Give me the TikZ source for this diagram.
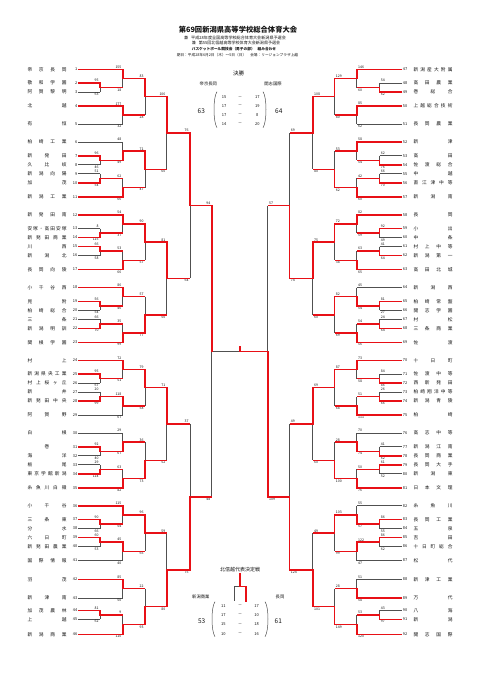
\documentclass[tikz,border=0pt]{standalone}
\usepackage{fontspec}
\setmainfont{Noto Sans CJK JP}
\definecolor{rd}{RGB}{232,16,22}
\definecolor{gy}{RGB}{80,80,80}
\definecolor{tx}{RGB}{20,20,20}
\pgfdeclarelayer{fg}
\pgfsetlayers{main,fg}
\newcounter{scn}
\def\SPa#1{#1\SPb}
\def\SPb#1{\ifx#1\relax\else\hfill#1\expandafter\SPb\fi}
\newcommand\spr[1]{\hbox to 39pt{\SPa#1\relax}}
\tikzset{
 rl/.style={draw=rd, line width=1.5pt},
 gl/.style={draw=gy, line width=0.7pt},
 nm/.style={font=\fontsize{4.7}{5}\selectfont, text=tx, inner sep=0pt},
 num/.style={font=\fontsize{3.9}{4.5}\selectfont, text=tx, inner sep=0.4pt},
 sc/.style={font=\fontsize{3.5}{4}\selectfont, text=tx, inner sep=0.2pt},
 qs/.style={font=\fontsize{4}{4.5}\selectfont, text=tx, inner sep=0pt},
 big/.style={font=\fontsize{6.5}{7}\selectfont, text=tx, inner sep=0pt},
 fn/.style={font=\fontsize{4.3}{5}\selectfont, text=tx, inner sep=0pt},
 pr/.style={draw=gy, line width=0.5pt},
}
\newcommand\scl[4]{\stepcounter{scn}\node[sc,anchor=#3] (s\arabic{scn}) at ({#1},{#2}) {#4};}
% #1 xj #2 xnext #3 yt #4 yb #5 winner t/b #6 top score #7 bottom score #8 side L/R
\newcommand\mtch[8]{%
 \pgfmathsetmacro\ymid{(#3+#4)/2}%
 \if#5t
   \draw[gl] (#1,\ymid) -- (#1,#4);
   \begin{pgfonlayer}{fg}\draw[rl,line cap=rect] (#1,#3) -- (#1,\ymid);\draw[rl] (#1,\ymid) -- (#2,\ymid);\end{pgfonlayer}
 \else
   \draw[gl] (#1,#3) -- (#1,\ymid);
   \begin{pgfonlayer}{fg}\draw[rl,line cap=rect] (#1,#4) -- (#1,\ymid);\draw[rl] (#1,\ymid) -- (#2,\ymid);\end{pgfonlayer}
 \fi
 \if#8L
   \scl{#1-1}{#3-0.6}{south east}{#6}\scl{#1-1}{#4+0.6}{north east}{#7}
 \else
   \scl{#1+1}{#3-0.6}{south west}{#6}\scl{#1+1}{#4+0.6}{north west}{#7}
 \fi}
\newcommand\tL[5]{%
 \node[nm,anchor=west] (n#1) at (27.3,#2) {\spr{#3}};
 \node[num,anchor=east] (t#1) at (77.8,#2) {#1};
 \if#4r\begin{pgfonlayer}{fg}\draw[rl] (t#1.east) -- (#5,#2);\end{pgfonlayer}\else\draw[gl] (t#1.east) -- (#5,#2);\fi}
\newcommand\tR[5]{%
 \node[nm,anchor=west] (n#1) at (413.3,#2) {\spr{#3}};
 \node[num,anchor=west] (t#1) at (402.3,#2) {#1};
 \if#4r\begin{pgfonlayer}{fg}\draw[rl] (#5,#2) -- (t#1.west);\end{pgfonlayer}\else\draw[gl] (#5,#2) -- (t#1.west);\fi}
\begin{document}
\begin{tikzpicture}[x=1pt,y=-1pt]
\fill[white] (0,0) rectangle (481,680);
\useasboundingbox (0,0) rectangle (481,680);
% header
\node[font=\fontsize{7.3}{8}\selectfont\bfseries,text=tx,inner sep=0pt] (h1) at (238,29.5) {第69回新潟県高等学校総合体育大会};
\node[font=\fontsize{4.1}{5}\selectfont,text=tx,inner sep=0pt] (h2) at (235,37.7) {兼\hspace{3pt}平成28年度全国高等学校総合体育大会新潟県予選会};
\node[font=\fontsize{4.05}{5}\selectfont,text=tx,inner sep=0pt] (h3) at (236,43.3) {兼\hspace{3pt}第55回北信越高等学校体育大会新潟県予選会};
\node[font=\fontsize{3.7}{4.5}\selectfont\bfseries,text=tx,inner sep=0pt] (h4) at (234,49.3) {バスケットボール競技会（男子の部）\hspace{3pt}組み合わせ};
\node[font=\fontsize{3.7}{4.5}\selectfont,text=tx,inner sep=0pt] (h5) at (237.5,55) {期日：平成28年6月2日（木）～5日（日）\hspace{4pt}会場：リージョンプラザ上越};
% left teams
\tL{1}{69.25}{帝京長岡}{r}{122.75}
\tL{2}{83}{敬和学園}{r}{100}
\tL{3}{92}{阿賀黎明}{g}{100}
\tL{4}{106}{北越}{r}{122.75}
\tL{5}{124}{有恒}{g}{122.75}
\tL{6}{142}{柏崎工業}{g}{122.75}
\tL{7}{155.75}{新発田}{r}{100}
\tL{8}{164.75}{久比岐}{g}{100}
\tL{9}{173.75}{新潟向陽}{g}{100}
\tL{10}{182.75}{加茂}{r}{100}
\tL{11}{196.75}{新潟工業}{r}{122.75}
\tL{12}{214.75}{新発田南}{r}{122.75}
\tL{13}{228.5}{安塚・高田安塚}{g}{100}
\tL{14}{237.5}{新発田商業}{r}{100}
\tL{15}{246.5}{川西}{r}{100}
\tL{16}{255.5}{新潟北}{g}{100}
\tL{17}{269.5}{長岡向陵}{r}{122.75}
\tL{18}{287.5}{小千谷西}{r}{122.75}
\tL{19}{301.25}{見附}{r}{100}
\tL{20}{310.25}{柏崎総合}{g}{100}
\tL{21}{319.25}{三条}{g}{100}
\tL{22}{328.25}{新潟明訓}{r}{100}
\tL{23}{342.25}{関根学園}{r}{122.75}
\tL{24}{360.25}{村上}{r}{122.75}
\tL{25}{374}{新潟県央工業}{r}{100}
\tL{26}{383}{村上桜ヶ丘}{g}{100}
\tL{27}{392}{新井}{g}{100}
\tL{28}{401}{新発田中央}{r}{100}
\tL{29}{415}{阿賀野}{g}{122.75}
\tL{30}{433}{白根}{g}{122.75}
\tL{31}{446.75}{{\hfil 巻\hfil}}{r}{100}
\tL{32}{455.75}{海洋}{g}{100}
\tL{33}{464.75}{栃尾}{g}{100}
\tL{34}{473.75}{東京学館新潟}{r}{100}
\tL{35}{487.75}{糸魚川白嶺}{r}{122.75}
\tL{36}{505.75}{小千谷}{r}{122.75}
\tL{37}{519.5}{三条東}{r}{100}
\tL{38}{528.5}{分水}{g}{100}
\tL{39}{537.5}{六日町}{r}{100}
\tL{40}{546.5}{新発田農業}{g}{100}
\tL{41}{560.5}{国際情報}{g}{122.75}
\tL{42}{579.25}{羽茂}{r}{122.75}
\tL{43}{598}{新津南}{g}{122.75}
\tL{44}{610.25}{加茂農林}{r}{100}
\tL{45}{619.25}{上越}{g}{100}
\tL{46}{634.25}{新潟商業}{r}{122.75}
% right teams
\tR{47}{69.25}{新潟産大附属}{r}{356.75}
\tR{48}{83}{高田農業}{g}{379.5}
\tR{49}{92}{巻総合}{r}{379.5}
\tR{50}{106}{上越総合技術}{r}{356.75}
\tR{51}{124}{長岡農業}{g}{356.75}
\tR{52}{142}{新津}{r}{356.75}
\tR{53}{155.75}{高田}{g}{379.5}
\tR{54}{164.75}{佐渡総合}{r}{379.5}
\tR{55}{173.75}{中越}{g}{379.5}
\tR{56}{182.75}{直江津中等}{r}{379.5}
\tR{57}{196.75}{新潟南}{r}{356.75}
\tR{58}{214.75}{長岡}{r}{356.75}
\tR{59}{228.5}{小出}{r}{379.5}
\tR{60}{237.5}{中条}{g}{379.5}
\tR{61}{246.5}{村上中等}{g}{379.5}
\tR{62}{255.5}{新潟第一}{r}{379.5}
\tR{63}{269.5}{高田北城}{r}{356.75}
\tR{64}{287.5}{新潟西}{g}{356.75}
\tR{65}{301.25}{柏崎常盤}{r}{379.5}
\tR{66}{310.25}{開志学園}{g}{379.5}
\tR{67}{319.25}{村松}{g}{379.5}
\tR{68}{328.25}{三条商業}{r}{379.5}
\tR{69}{342.25}{佐渡}{r}{356.75}
\tR{70}{360.25}{十日町}{r}{356.75}
\tR{71}{374}{佐渡中等}{g}{379.5}
\tR{72}{383}{西新発田}{r}{379.5}
\tR{73}{392}{柏崎翔洋中等}{g}{379.5}
\tR{74}{401}{新潟青陵}{r}{379.5}
\tR{75}{415}{柏崎}{r}{356.75}
\tR{76}{433}{高志中等}{g}{356.75}
\tR{77}{446.75}{新潟江南}{g}{379.5}
\tR{78}{455.75}{長岡商業}{r}{379.5}
\tR{79}{464.75}{長岡大手}{r}{379.5}
\tR{80}{473.75}{新潟東}{g}{379.5}
\tR{81}{487.75}{日本文理}{r}{356.75}
\tR{82}{505.75}{糸魚川}{g}{356.75}
\tR{83}{519.5}{長岡工業}{r}{379.5}
\tR{84}{528.5}{五泉}{g}{379.5}
\tR{85}{537.5}{吉田}{r}{379.5}
\tR{86}{546.5}{十日町総合}{g}{379.5}
\tR{87}{560.5}{松代}{g}{356.75}
\tR{88}{579.25}{新津工業}{g}{356.75}
\tR{89}{598}{万代}{r}{356.75}
\tR{90}{610.25}{八海}{g}{379.5}
\tR{91}{619.25}{新潟}{r}{379.5}
\tR{92}{634.25}{開志国際}{r}{356.75}
% left level 1
\mtch{100}{122.75}{83}{92}{t}{95}{63}{L}
\mtch{100}{122.75}{155.75}{164.75}{t}{96}{46}{L}
\mtch{100}{122.75}{173.75}{182.75}{b}{51}{54}{L}
\mtch{100}{122.75}{228.5}{237.5}{b}{8}{115}{L}
\mtch{100}{122.75}{246.5}{255.5}{t}{66}{58}{L}
\mtch{100}{122.75}{301.25}{310.25}{t}{56}{54}{L}
\mtch{100}{122.75}{319.25}{328.25}{b}{66}{70}{L}
\mtch{100}{122.75}{374}{383}{t}{95}{67}{L}
\mtch{100}{122.75}{392}{401}{b}{20}{99}{L}
\mtch{100}{122.75}{446.75}{455.75}{t}{92}{40}{L}
\mtch{100}{122.75}{464.75}{473.75}{b}{29}{114}{L}
\mtch{100}{122.75}{519.5}{528.5}{t}{90}{66}{L}
\mtch{100}{122.75}{537.5}{546.5}{t}{60}{53}{L}
\mtch{100}{122.75}{610.25}{619.25}{t}{81}{62}{L}
% left level 2
\mtch{122.75}{145}{69.25}{87.5}{t}{155}{18}{L}
\mtch{122.75}{145}{106}{124}{t}{177}{32}{L}
\mtch{122.75}{145}{142}{160.25}{b}{48}{49}{L}
\mtch{122.75}{145}{178.25}{196.75}{b}{62}{66}{L}
\mtch{122.75}{145}{214.75}{233}{t}{54}{37}{L}
\mtch{122.75}{145}{251}{269.5}{b}{53}{66}{L}
\mtch{122.75}{145}{287.5}{305.75}{t}{86}{46}{L}
\mtch{122.75}{145}{323.75}{342.25}{b}{35}{99}{L}
\mtch{122.75}{145}{360.25}{378.5}{t}{72}{51}{L}
\mtch{122.75}{145}{396.5}{415}{t}{118}{67}{L}
\mtch{122.75}{145}{433}{451.25}{b}{29}{67}{L}
\mtch{122.75}{145}{469.25}{487.75}{b}{63}{82}{L}
\mtch{122.75}{145}{505.75}{524}{t}{115}{54}{L}
\mtch{122.75}{145}{542}{560.5}{t}{45}{40}{L}
\mtch{122.75}{145}{579.25}{598}{t}{85}{50}{L}
\mtch{122.75}{145}{614.75}{634.25}{b}{9}{110}{L}
% left level 3
\mtch{145}{166.75}{78.375}{115}{t}{83}{28}{L}
\mtch{145}{166.75}{151.125}{187.5}{t}{71}{47}{L}
\mtch{145}{166.75}{223.875}{260.25}{t}{90}{57}{L}
\mtch{145}{166.75}{296.625}{333}{b}{57}{77}{L}
\mtch{145}{166.75}{369.375}{405.75}{t}{79}{58}{L}
\mtch{145}{166.75}{442.125}{478.5}{b}{36}{73}{L}
\mtch{145}{166.75}{514.875}{551.25}{t}{96}{65}{L}
\mtch{145}{166.75}{588.625}{624.5}{b}{22}{93}{L}
% left level 4
\mtch{166.75}{190}{96.6875}{169.3125}{t}{106}{60}{L}
\mtch{166.75}{190}{242.0625}{314.8125}{t}{81}{50}{L}
\mtch{166.75}{190}{387.5625}{460.3125}{t}{71}{52}{L}
\mtch{166.75}{190}{533.0625}{606.5625}{b}{59}{80}{L}
% left level 5
\mtch{190}{211.75}{133}{278.4375}{t}{76}{64}{L}
\mtch{190}{211.75}{423.9375}{569.8125}{b}{37}{75}{L}
% left semi
\mtch{211.75}{211.75}{205.71875}{496.875}{t}{94}{48}{L}
% right level 1
\mtch{379.5}{356.75}{83}{92}{b}{54}{62}{R}
\mtch{379.5}{356.75}{155.75}{164.75}{b}{62}{76}{R}
\mtch{379.5}{356.75}{173.75}{182.75}{b}{66}{70}{R}
\mtch{379.5}{356.75}{228.5}{237.5}{t}{92}{49}{R}
\mtch{379.5}{356.75}{246.5}{255.5}{b}{41}{64}{R}
\mtch{379.5}{356.75}{301.25}{310.25}{t}{81}{27}{R}
\mtch{379.5}{356.75}{319.25}{328.25}{b}{24}{64}{R}
\mtch{379.5}{356.75}{374}{383}{b}{84}{86}{R}
\mtch{379.5}{356.75}{392}{401}{b}{26}{66}{R}
\mtch{379.5}{356.75}{446.75}{455.75}{b}{41}{62}{R}
\mtch{379.5}{356.75}{464.75}{473.75}{t}{61}{52}{R}
\mtch{379.5}{356.75}{519.5}{528.5}{t}{86}{55}{R}
\mtch{379.5}{356.75}{537.5}{546.5}{t}{86}{62}{R}
\mtch{379.5}{356.75}{610.25}{619.25}{b}{43}{97}{R}
% right level 2
\mtch{356.75}{334.5}{69.25}{87.5}{t}{146}{60}{R}
\mtch{356.75}{334.5}{106}{124}{t}{85}{62}{R}
\mtch{356.75}{334.5}{142}{160.25}{t}{58}{54}{R}
\mtch{356.75}{334.5}{178.25}{196.75}{b}{42}{60}{R}
\mtch{356.75}{334.5}{214.75}{233}{t}{82}{59}{R}
\mtch{356.75}{334.5}{251}{269.5}{b}{63}{65}{R}
\mtch{356.75}{334.5}{287.5}{305.75}{b}{45}{54}{R}
\mtch{356.75}{334.5}{323.75}{342.25}{b}{54}{56}{R}
\mtch{356.75}{334.5}{360.25}{378.5}{t}{73}{58}{R}
\mtch{356.75}{334.5}{396.5}{415}{b}{51}{111}{R}
\mtch{356.75}{334.5}{433}{451.25}{b}{70}{74}{R}
\mtch{356.75}{334.5}{469.25}{487.75}{b}{50}{76}{R}
\mtch{356.75}{334.5}{505.75}{524}{b}{55}{57}{R}
\mtch{356.75}{334.5}{542}{560.5}{t}{122}{47}{R}
\mtch{356.75}{334.5}{579.25}{598}{b}{51}{58}{R}
\mtch{356.75}{334.5}{614.75}{634.25}{b}{53}{120}{R}
% right level 3
\mtch{334.5}{312.75}{78.375}{115}{t}{129}{80}{R}
\mtch{334.5}{312.75}{151.125}{187.5}{b}{53}{62}{R}
\mtch{334.5}{312.75}{223.875}{260.25}{t}{72}{38}{R}
\mtch{334.5}{312.75}{296.625}{333}{t}{82}{69}{R}
\mtch{334.5}{312.75}{369.375}{405.75}{t}{87}{68}{R}
\mtch{334.5}{312.75}{442.125}{478.5}{b}{28}{100}{R}
\mtch{334.5}{312.75}{514.875}{551.25}{t}{103}{99}{R}
\mtch{334.5}{312.75}{588.625}{624.5}{b}{28}{149}{R}
% right level 4
\mtch{312.75}{289.5}{96.6875}{169.3125}{t}{108}{80}{R}
\mtch{312.75}{289.5}{242.0625}{314.8125}{t}{75}{60}{R}
\mtch{312.75}{289.5}{387.5625}{460.3125}{t}{69}{60}{R}
\mtch{312.75}{289.5}{533.0625}{606.5625}{b}{49}{101}{R}
% right level 5
\mtch{289.5}{267.75}{133}{278.4375}{b}{69}{74}{R}
\mtch{289.5}{267.75}{423.9375}{569.8125}{b}{49}{124}{R}
% right semi
\mtch{267.75}{267.75}{205.71875}{496.875}{b}{57}{109}{R}
% final line
\coordinate (fl) at (211.75,351.3);
\coordinate (fc) at (239.75,351.3);
\coordinate (fr) at (267.75,351.3);
\coordinate (ft) at (239.75,346.3);
\draw[gl] (fl) -- (fc);
\begin{pgfonlayer}{fg}\draw[rl] (fc) -- (fr);\draw[rl,line cap=rect] (fc) -- (ft);\end{pgfonlayer}
% final result block
\node[font=\fontsize{5.5}{6}\selectfont,text=tx,inner sep=0pt] (kessho) at (238.5,73.5) {決勝};
\node[fn] (fa) at (208.3,84) {帝京長岡};
\node[fn] (fb) at (273,84) {開志国際};
\node[big] (fsa) at (201.3,110.7) {63};
\node[big] (fsb) at (278.8,110.7) {64};
\foreach \y/\a/\b [count=\i] in {97.3/15/17,106/17/19,115/17/8,124/14/20}{
  \node[qs] (fq\i a) at (224,\y) {\a};
  \node[qs] (fq\i d) at (240,\y) {－};
  \node[qs] (fq\i b) at (257.3,\y) {\b};
}
\draw[pr] (217,91.7) .. controls (213,97) and (213,122) .. (217,127.7);
\draw[pr] (263,91.7) .. controls (267,97) and (267,122) .. (263,127.7);
% hokushinetsu block
\node[font=\fontsize{5}{6}\selectfont,text=tx,inner sep=0pt] (hsn) at (240,569.5) {北信越代表決定戦};
\coordinate (ha) at (240,573.5);
\coordinate (hb) at (240,586.7);
\coordinate (hl) at (234.3,586.7);
\coordinate (hr) at (246,586.7);
\coordinate (hll) at (234.3,601);
\coordinate (hrr) at (246,601);
\draw[gl] (hb) -- (hl) -- (hll);
\begin{pgfonlayer}{fg}\draw[rl,line cap=rect] (ha) -- (hb);\draw[rl,line cap=rect] (hb) -- (hr) -- (hrr);\end{pgfonlayer}
\node[fn] (ga) at (200.8,596.7) {新潟商業};
\node[fn] (gb) at (280,596.7) {長岡};
\node[big] (gsa) at (201.7,620.7) {53};
\node[big] (gsb) at (278.3,620.7) {61};
\foreach \y/\a/\b [count=\i] in {606/11/17,615/17/10,624.3/15/18,634/10/16}{
  \node[qs] (gq\i a) at (223.3,\y) {\a};
  \node[qs] (gq\i d) at (240,\y) {－};
  \node[qs] (gq\i b) at (256.7,\y) {\b};
}
\draw[pr] (215,601.7) .. controls (211,607) and (211,631) .. (215,636.7);
\draw[pr] (265,601.7) .. controls (269,607) and (269,631) .. (265,636.7);
\end{tikzpicture}
\end{document}
